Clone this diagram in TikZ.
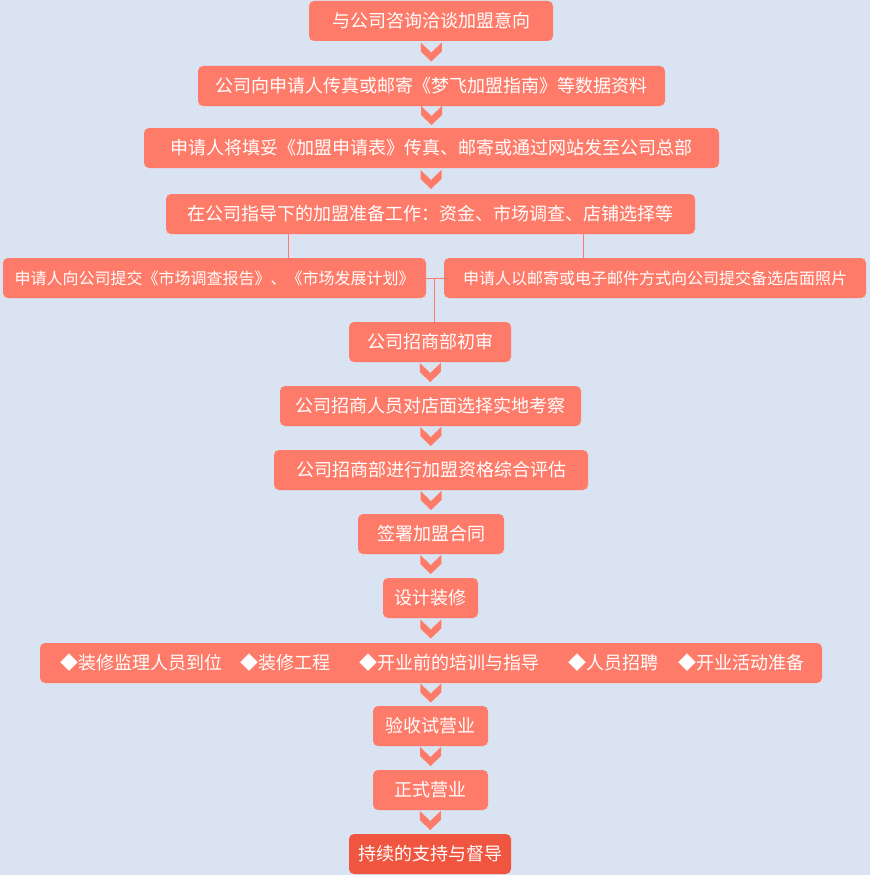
\documentclass[tikz,border=0pt]{standalone}
\usepackage{fontspec}
\setmainfont{Noto Sans CJK SC}
\usetikzlibrary{calc}
\definecolor{bg}{HTML}{DAE3F2}
\definecolor{boxc}{HTML}{FF7B69}
\definecolor{boxdark}{HTML}{F0553F}
\begin{document}
\begin{tikzpicture}[x=1pt,y=-1pt,
  stepbox/.style={fill=boxc, rounded corners=5pt, text=white, font=\fontsize{18}{20}\selectfont, inner sep=0pt, minimum height=40pt, anchor=center},
  smallbox/.style={stepbox, font=\fontsize{16}{18}\selectfont},
  itemtext/.style={text=white, font=\fontsize{18}{20}\selectfont, inner sep=0pt, anchor=west},
  link/.style={draw=boxc, line width=1pt},
  chev/.pic={\fill[boxc] (-10.5,-9.5) -- (0,0.5) -- (10.5,-9.5) -- (10.5,-0.5) -- (0,9.5) -- (-10.5,-0.5) -- cycle;}
]
\fill[bg] (0,0) rectangle (870,875);
\useasboundingbox (0,0) rectangle (870,875);

\node[stepbox, minimum width=244pt] (b1) at (431,21) {与公司咨询洽谈加盟意向};
\node[stepbox, minimum width=467pt] (b2) at (431.5,86) {公司向申请人传真或邮寄《梦飞加盟指南》等数据资料};
\node[stepbox, minimum width=575pt] (b3) at (431.5,148) {申请人将填妥《加盟申请表》传真、邮寄或通过网站发至公司总部};
\node[stepbox, minimum width=529pt] (b4) at (430.5,214) {在公司指导下的加盟准备工作：资金、市场调查、店铺选择等};
\node[smallbox, minimum width=423pt] (b5) at (214.5,278) {申请人向公司提交《市场调查报告》、《市场发展计划》};
\node[smallbox, minimum width=422pt] (b6) at (655,278) {申请人以邮寄或电子邮件方式向公司提交备选店面照片};
\node[stepbox, minimum width=162pt] (b7) at (430,342) {公司招商部初审};
\node[stepbox, minimum width=301pt] (b8) at (430.5,406) {公司招商人员对店面选择实地考察};
\node[stepbox, minimum width=314pt] (b9) at (431,470) {公司招商部进行加盟资格综合评估};
\node[stepbox, minimum width=146pt] (b10) at (431,534) {签署加盟合同};
\node[stepbox, minimum width=95pt] (b11) at (430.5,598) {设计装修};
\node[stepbox, minimum width=782pt] (b12) at (431,663) {};
\node[itemtext] (i1) at (60,663) {◆装修监理人员到位};
\node[itemtext] (i2) at (240,663) {◆装修工程};
\node[itemtext] (i3) at (359,663) {◆开业前的培训与指导};
\node[itemtext] (i4) at (568,663) {◆人员招聘};
\node[itemtext] (i5) at (678,663) {◆开业活动准备};
\node[stepbox, minimum width=115pt] (b13) at (430.5,726) {验收试营业};
\node[stepbox, minimum width=115pt] (b14) at (430.5,790) {正式营业};
\node[stepbox, fill=boxdark, minimum width=162pt] (b15) at (430,854) {持续的支持与督导};

% chevrons
\foreach \a/\b in {b1/b2,b2/b3,b3/b4,b7/b8,b8/b9,b9/b10,b10/b11,b11/b12,b12/b13,b13/b14,b14/b15}
  \pic at ($(\a.south)!0.5!(\b.north)+(0,-1.5)$) {chev};

% branch connectors
\coordinate (tl) at (288,0);
\coordinate (tr) at (583,0);
\coordinate (tm) at (434,0);
\draw[link] (b4.south -| tl) -- (b5.north -| tl);
\draw[link] (b4.south -| tr) -- (b6.north -| tr);
\draw[link] (b5.east) -- (b6.west);
\draw[link] (b5.east -| tm) -- (b7.north -| tm);
\end{tikzpicture}
\end{document}
